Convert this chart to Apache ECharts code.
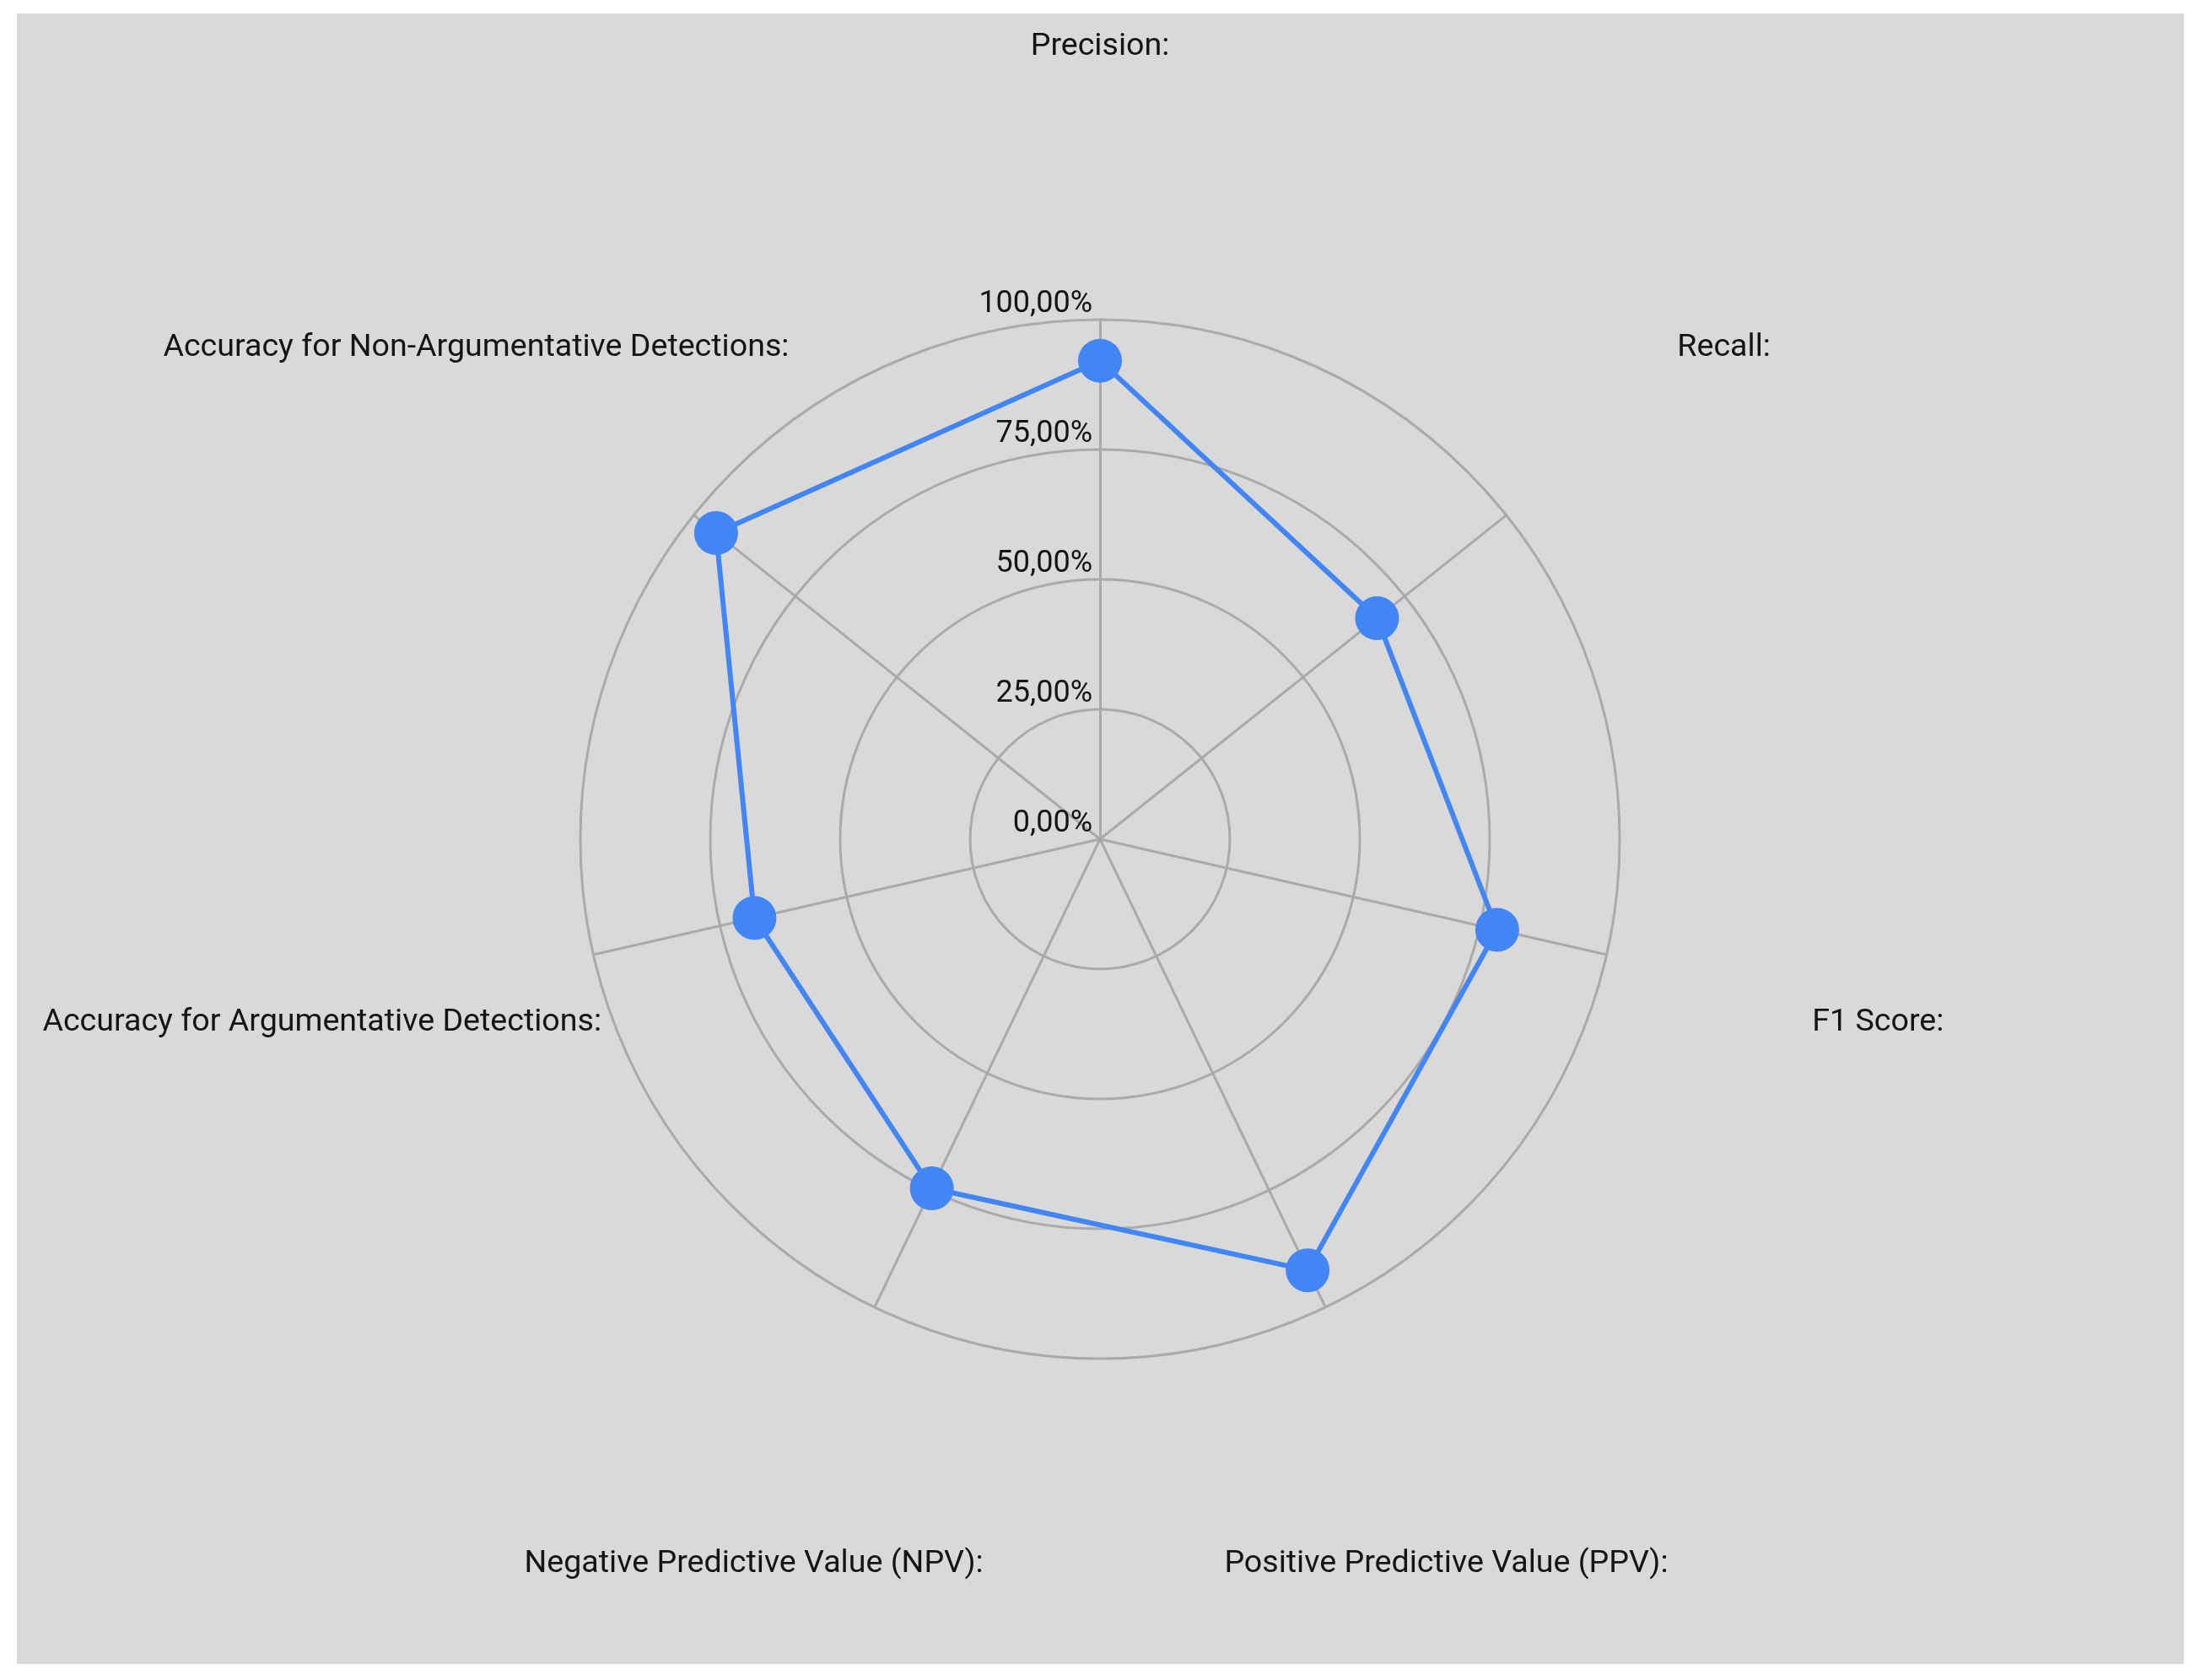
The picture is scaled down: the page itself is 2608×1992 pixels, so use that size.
<!DOCTYPE html>
<html lang="en">
<head>
    <meta charset="UTF-8">
    <title>Radar</title>
    <script src="https://cdn.jsdelivr.net/npm/echarts@6/dist/echarts.min.js"></script>
    <style>
        * { padding: 0; margin: 0; }
        html, body { width: 2608px; height: 1992px; background: #fff; }
        #radar {
            position: absolute;
            left: 20px;
            top: 16px;
            width: 2569px;
            height: 1957px;
            background: #d9d9d9;
        }
    </style>
</head>
<body>
    <div id="radar"></div>
<script>
    // metric names, clockwise from the top
    var metrics = [
        'Precision:',
        'Recall:',
        'F1 Score:',
        'Positive Predictive Value (PPV):',
        'Negative Predictive Value (NPV):',
        'Accuracy for Argumentative Detections:',
        'Accuracy for Non-Argumentative Detections:'
    ];
    // percent values
    var scores = [92.1, 68.2, 78.4, 92.1, 74.6, 68.2, 94.5];
    var axisMax = 100;

    function pct(v) {
        return v.toFixed(2).replace('.', ',') + '%';
    }

    // echarts lays radar axes out counter-clockwise, so keep the first one
    // on top and reverse the rest to get the clockwise order
    var order = [0];
    for (var k = metrics.length - 1; k > 0; k--) order.push(k);

    var chart = echarts.init(document.getElementById('radar'));
    var indicators = order.map(function (i) {
        var ind = { name: metrics[i], min: 0, max: axisMax };
        // only the top axis carries the value labels
        if (i === 0) ind.axisLabel = { show: true };
        return ind;
    });
    var values = order.map(function (i) { return scores[i]; });

    chart.setOption({
        backgroundColor: '#d9d9d9',
        radar: {
            center: [1284, 979],
            radius: 616,
            startAngle: 90,
            shape: 'circle',
            splitNumber: 4,
            nameGap: 330,
            indicator: indicators,
            axisName: {
                color: '#141414',
                fontSize: 37.6,
                fontFamily: 'Roboto',
                align: 'center',
                verticalAlign: 'middle',
                formatter: function (name) { return '{n|' + name + '}'; },
                rich: {
                    n: {
                        color: '#141414',
                        fontSize: 37.6,
                        fontFamily: 'Roboto',
                        padding: [14, 0, 0, 0]
                    }
                }
            },
            axisLine: { lineStyle: { color: '#aaaaaa', width: 3 } },
            splitLine: { lineStyle: { color: '#aaaaaa', width: 3 } },
            splitArea: { show: false },
            axisTick: { show: false },
            axisLabel: {
                show: false,
                color: '#141414',
                fontSize: 36,
                fontFamily: 'Roboto',
                margin: 9,
                verticalAlign: 'bottom',
                formatter: function (v) { return pct(v); }
            }
        },
        series: [{
            type: 'radar',
            symbol: 'circle',
            symbolSize: 52,
            lineStyle: { color: '#4285f4', width: 6 },
            itemStyle: { color: '#4285f4' },
            data: [{ value: values, name: 'Scores' }]
        }]
    });
</script>
</body>
</html>
